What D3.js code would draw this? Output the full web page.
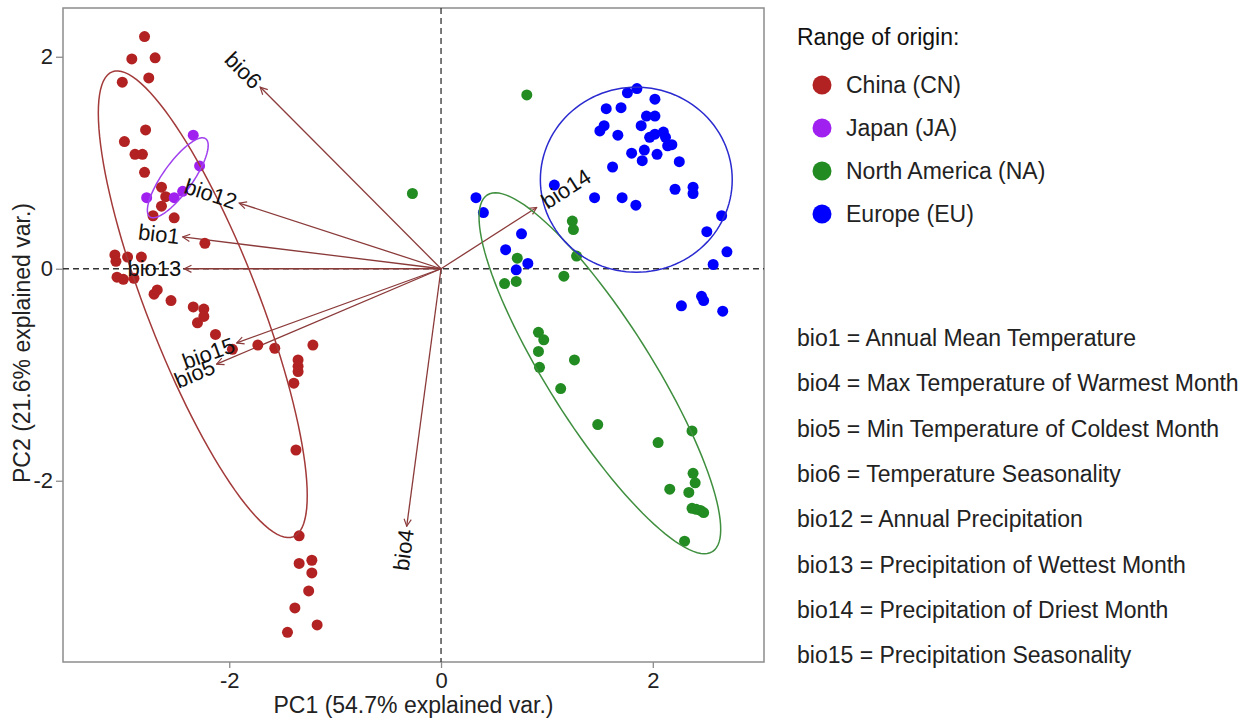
<!DOCTYPE html>
<html>
<head>
<meta charset="utf-8">
<script src="https://cdn.jsdelivr.net/npm/d3@7"></script>
<style>
  body { margin: 0; background: #fff; }
  text { font-family: Arial, "Liberation Sans", sans-serif; }
</style>
</head>
<body>
<div id="chart"></div>
<script>
// groups and colours
const groupNames = ["China (CN)", "Japan (JA)", "North America (NA)", "Europe (EU)"];
const groupColors = ["#b22222", "#a020f0", "#228b22", "#0000ff"];
const ellipseColors = ["#a33a3a", "#a040ee", "#3f8f3f", "#2a2ad0"];

// PC scores [PC1, PC2]
const cnPoints = [
  [-2.80, 2.19], [-2.92, 1.98], [-2.70, 1.99], [-3.01, 1.76], [-2.76, 1.80],
  [-2.79, 1.31], [-2.99, 1.20], [-2.89, 1.08], [-2.82, 1.08], [-2.80, 0.91],
  [-2.64, 0.77], [-2.60, 0.68], [-2.64, 0.59], [-2.72, 0.50], [-2.52, 0.48],
  [-2.23, 0.24], [-3.08, 0.13], [-3.07, 0.07], [-2.96, 0.11], [-2.83, 0.11],
  [-3.06, -0.08], [-3.00, -0.10], [-2.90, -0.09], [-2.71, -0.24], [-2.68, -0.20],
  [-2.55, -0.30], [-2.34, -0.36], [-2.24, -0.38], [-2.24, -0.45], [-2.30, -0.51],
  [-2.13, -0.62], [-1.97, -0.76], [-1.73, -0.72], [-1.57, -0.75], [-1.21, -0.72],
  [-1.35, -0.86], [-1.35, -0.92], [-1.35, -0.97], [-1.39, -1.08], [-1.37, -1.71],
  [-1.34, -2.52], [-1.34, -2.78], [-1.22, -2.75], [-1.22, -2.87], [-1.25, -3.04],
  [-1.38, -3.20], [-1.17, -3.36], [-1.45, -3.43]
];
const jaPoints = [
  [-2.34, 1.26], [-2.28, 0.97], [-2.78, 0.67], [-2.52, 0.67], [-2.44, 0.73]
];
const naPoints = [
  [-0.27, 0.71], [0.81, 1.64], [1.24, 0.45], [1.25, 0.37], [0.72, 0.10],
  [1.28, 0.12], [1.16, -0.07], [0.60, -0.14], [0.71, -0.12], [0.92, -0.60],
  [0.97, -0.67], [0.92, -0.78], [0.93, -0.93], [1.26, -0.86], [1.13, -1.13],
  [1.48, -1.47], [2.37, -1.53], [2.05, -1.64], [2.38, -1.93], [2.40, -2.02],
  [2.16, -2.08], [2.34, -2.11], [2.37, -2.26], [2.41, -2.27], [2.45, -2.28],
  [2.48, -2.30], [2.30, -2.57]
];
const euPoints = [
  [1.85, 1.70], [1.76, 1.66], [2.02, 1.60], [1.56, 1.51], [1.70, 1.52],
  [1.94, 1.44], [2.02, 1.44], [1.89, 1.35], [1.54, 1.35], [1.50, 1.30],
  [1.67, 1.26], [1.97, 1.24], [2.02, 1.27], [2.10, 1.29], [2.12, 1.24],
  [2.14, 1.16], [2.18, 1.17], [1.92, 1.12], [1.80, 1.09], [2.04, 1.08],
  [1.90, 1.02], [2.25, 1.01], [1.62, 0.96], [2.21, 0.75], [2.38, 0.77],
  [2.38, 0.71], [1.07, 0.79], [1.45, 0.67], [1.71, 0.67], [1.84, 0.60],
  [0.33, 0.67], [0.40, 0.53], [2.65, 0.50], [2.51, 0.35], [0.76, 0.33],
  [0.61, 0.18], [2.70, 0.16], [0.71, -0.01], [0.82, 0.05], [2.57, 0.04],
  [2.46, -0.26], [2.48, -0.30], [2.27, -0.35], [2.66, -0.40]
];

// normal-data ellipses per group: centre, semi axes, angle of major axis (deg)
const ellipseCenters = [[-2.25, -0.335], [-2.486, 0.858], [1.50, -0.986], [1.844, 0.84]];
const ellipseAxes = [[2.354, 0.528], [0.453, 0.14], [1.99, 0.49], [0.906, 0.873]];
const ellipseAngles = [111.3, 54.4, -57.7, 0];

// variable loadings
const varNames = ["bio6", "bio12", "bio1", "bio13", "bio15", "bio5", "bio4", "bio14"];
const varX = [-1.708, -1.906, -2.44, -2.425, -1.93, -2.12, -0.324, 0.903];
const varY = [1.714, 0.62, 0.30, 0.0, -0.70, -0.90, -2.43, 0.578];

const bioDefs = [
  "bio1 = Annual Mean Temperature",
  "bio4 = Max Temperature of Warmest Month",
  "bio5 = Min Temperature of Coldest Month",
  "bio6 = Temperature Seasonality",
  "bio12 = Annual Precipitation",
  "bio13 = Precipitation of Wettest Month",
  "bio14 = Precipitation of Driest Month",
  "bio15 = Precipitation Seasonality"
];

const xTicks = [-2, 0, 2];
const yTicks = [-2, 0, 2];
const xTitle = "PC1 (54.7% explained var.)";
const yTitle = "PC2 (21.6% explained var.)";
const legendTitle = "Range of origin:";

const panel = { left: 63, right: 764, top: 8, bottom: 662 };

const svg = d3.select("#chart")
  .append("svg")
  .attr("width", 1252)
  .attr("height", 720);

const x = d3.scaleLinear().domain([-3.57, 3.05]).range([panel.left, panel.right]);
const y = d3.scaleLinear().domain([-3.71, 2.46]).range([panel.bottom, panel.top]);

// axes (plain hyphen for negatives, like R)
const xAxis = svg.append("g")
  .attr("transform", `translate(0,${panel.bottom})`)
  .call(d3.axisBottom(x).tickValues(xTicks).tickSize(6).tickPadding(4).tickFormat(d => String(d)));
const yAxis = svg.append("g")
  .attr("transform", `translate(${panel.left},0)`)
  .call(d3.axisLeft(y).tickValues(yTicks).tickSize(7).tickPadding(3).tickFormat(d => String(d)));

[xAxis, yAxis].forEach(a => {
  a.select(".domain").remove();
  a.selectAll(".tick line").attr("stroke", "#8c8c8c").attr("stroke-width", 1.3);
  a.selectAll(".tick text")
    .style("font-size", "22px")
    .style("font-family", "Arial, 'Liberation Sans', sans-serif")
    .attr("fill", "#222");
});

// panel border
svg.append("rect")
  .attr("x", panel.left)
  .attr("y", panel.top)
  .attr("width", panel.right - panel.left)
  .attr("height", panel.bottom - panel.top)
  .attr("fill", "none")
  .attr("stroke", "#8c8c8c")
  .attr("stroke-width", 1.5);

// zero reference lines
svg.append("line")
  .attr("x1", x(0)).attr("x2", x(0))
  .attr("y1", panel.top).attr("y2", panel.bottom)
  .attr("stroke", "#333").attr("stroke-width", 1.3)
  .attr("stroke-dasharray", "6,4");
svg.append("line")
  .attr("x1", panel.left).attr("x2", panel.right)
  .attr("y1", y(0)).attr("y2", y(0))
  .attr("stroke", "#333").attr("stroke-width", 1.3)
  .attr("stroke-dasharray", "6,4");

// arrows
const arrowColor = "#8b3a3a";
svg.append("defs").append("marker")
  .attr("id", "head")
  .attr("viewBox", "0 0 10 10")
  .attr("refX", 9)
  .attr("refY", 5)
  .attr("markerWidth", 9)
  .attr("markerHeight", 9)
  .attr("markerUnits", "userSpaceOnUse")
  .attr("orient", "auto")
  .append("path")
  .attr("d", "M1,1 L9,5 L1,9")
  .attr("fill", "none")
  .attr("stroke", arrowColor)
  .attr("stroke-width", 1.3);

svg.append("g")
  .selectAll("line")
  .data(varNames)
  .join("line")
  .attr("x1", x(0))
  .attr("y1", y(0))
  .attr("x2", (d, i) => x(varX[i]))
  .attr("y2", (d, i) => y(varY[i]))
  .attr("stroke", arrowColor)
  .attr("stroke-width", 1.3)
  .attr("marker-end", "url(#head)");

// points
const groupPoints = [cnPoints, jaPoints, naPoints, euPoints];
groupPoints.forEach((pts, g) => {
  svg.append("g")
    .selectAll("circle")
    .data(pts)
    .join("circle")
    .attr("cx", d => x(d[0]))
    .attr("cy", d => y(d[1]))
    .attr("r", 5.5)
    .attr("fill", groupColors[g]);
});

// ellipses
const ellipseLine = d3.line().x(d => x(d[0])).y(d => y(d[1]));
ellipseCenters.forEach((c, g) => {
  const [a, b] = ellipseAxes[g];
  const th = ellipseAngles[g] * Math.PI / 180;
  const pts = d3.range(0, 361, 3).map(t => {
    const r = t * Math.PI / 180;
    return [
      c[0] + a * Math.cos(r) * Math.cos(th) - b * Math.sin(r) * Math.sin(th),
      c[1] + a * Math.cos(r) * Math.sin(th) + b * Math.sin(r) * Math.cos(th)
    ];
  });
  svg.append("path")
    .attr("d", ellipseLine(pts))
    .attr("fill", "none")
    .attr("stroke", ellipseColors[g])
    .attr("stroke-width", 1.5);
});

// variable labels, rotated along the arrow like ggbiplot
svg.append("g")
  .selectAll("text")
  .data(varNames)
  .join("text")
  .attr("transform", (d, i) => {
    const ang = Math.atan(varY[i] / varX[i]);
    const dirX = Math.cos(ang), dirY = -Math.sin(ang);
    const gap = varX[i] < 0 ? -3 : 8;
    const px = x(varX[i]) + gap * dirX;
    const py = y(varY[i]) + gap * dirY;
    return `translate(${px},${py}) rotate(${-ang * 180 / Math.PI})`;
  })
  .attr("text-anchor", (d, i) => varX[i] < 0 ? "end" : "start")
  .attr("dy", "0.35em")
  .style("font-size", "22px")
  .attr("fill", "#111")
  .text(d => d);

// axis titles
svg.append("text")
  .attr("x", (panel.left + panel.right) / 2)
  .attr("y", 713)
  .attr("text-anchor", "middle")
  .style("font-size", "23px")
  .attr("fill", "#222")
  .text(xTitle);

svg.append("text")
  .attr("transform", `translate(30,${(panel.top + panel.bottom) / 2 + 8}) rotate(-90)`)
  .attr("text-anchor", "middle")
  .style("font-size", "23px")
  .attr("fill", "#222")
  .text(yTitle);

// Legend
svg.append("text")
  .attr("x", 797)
  .attr("y", 45)
  .style("font-size", "23px")
  .attr("fill", "#111")
  .text(legendTitle);

const legend = svg.selectAll(".legend")
  .data(groupNames)
  .enter().append("g")
  .attr("class", "legend")
  .attr("transform", (d, i) => `translate(822, ${85 + i * 43})`);

legend.append("circle")
  .attr("r", 9.5)
  .attr("fill", (d, i) => groupColors[i]);

legend.append("text")
  .attr("x", 24)
  .attr("dy", ".35em")
  .style("font-size", "23px")
  .attr("fill", "#222")
  .text(d => d);

// variable definitions
svg.append("g")
  .selectAll("text")
  .data(bioDefs)
  .join("text")
  .attr("x", 797)
  .attr("y", (d, i) => 338 + i * 45.3)
  .attr("dy", ".35em")
  .style("font-size", "23px")
  .attr("fill", "#222")
  .text(d => d);
</script>
</body>
</html>
